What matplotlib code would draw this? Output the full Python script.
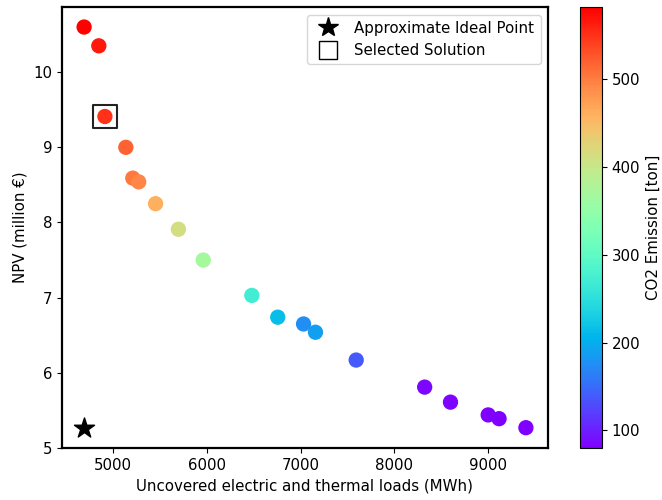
import matplotlib
matplotlib.use("Agg")
import matplotlib.pyplot as plt
from matplotlib.lines import Line2D

# Pareto front: uncovered loads vs NPV, coloured by CO2 emissions
uncovered_mwh = [4693, 4850, 4915, 5138, 5212, 5275, 5455, 5698, 5963, 6481,
                 6757, 7032, 7159, 7593, 8323, 8598, 9000, 9116, 9402]
npv_million = [10.60, 10.35, 9.41, 9.00, 8.59, 8.54, 8.25, 7.91, 7.50, 7.03,
               6.74, 6.65, 6.54, 6.17, 5.81, 5.61, 5.44, 5.39, 5.27]
co2_ton = [582, 566, 550, 518, 503, 492, 460, 412, 370, 272,
           215, 175, 188, 137, 84, 82, 81, 80, 80]

ideal_point = (4693, 5.27)
selected_index = 2

plt.rcParams["font.size"] = 10.8

fig = plt.figure(figsize=(6.62, 5.0), dpi=100)
ax = fig.add_axes([62 / 662, 52 / 500, 486 / 662, 441 / 500])
cax = fig.add_axes([580 / 662, 52 / 500, 22 / 662, 441 / 500])

sc = ax.scatter(uncovered_mwh, npv_million, c=co2_ton, cmap="rainbow", s=100, zorder=2)
ax.scatter([ideal_point[0]], [ideal_point[1]], marker="*", s=230, color="black",
           zorder=3)
ax.scatter([uncovered_mwh[selected_index]], [npv_million[selected_index]],
           marker="s", s=280, facecolors="none", edgecolors="#222222",
           linewidths=1.5, zorder=3)

ax.set_xlabel("Uncovered electric and thermal loads (MWh)")
ax.set_ylabel("NPV (million €)")
ax.set_xticks([5000, 6000, 7000, 8000, 9000])
ax.set_yticks([5, 6, 7, 8, 9, 10])
for sp in ax.spines.values():
    sp.set_linewidth(1.6)

handles = [
    Line2D([], [], marker="*", color="black", linestyle="none", markersize=15),
    Line2D([], [], marker="s", markerfacecolor="none", markeredgecolor="black",
           markeredgewidth=1.0, linestyle="none", markersize=13),
]
ax.legend(handles, ["Approximate Ideal Point", "Selected Solution"],
          loc="upper right")

cb = fig.colorbar(sc, cax=cax)
cb.set_label("CO2 Emission [ton]")
cb.set_ticks([100, 200, 300, 400, 500])

fig.savefig("out.png", dpi=100)
